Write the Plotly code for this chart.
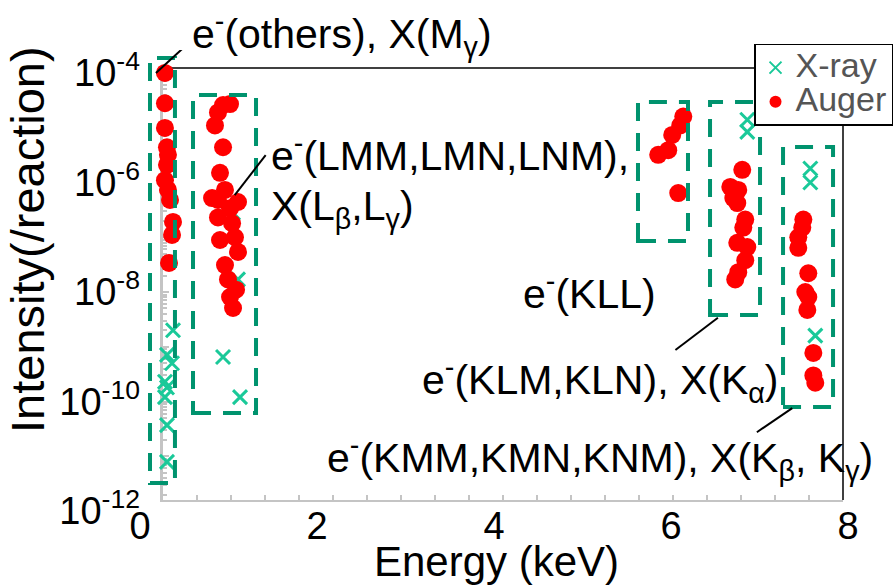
import plotly.graph_objects as go

# ---------------- data (energy keV, intensity /reaction) ----------------
others_auger_e = [0.282, 0.282, 0.282, 0.305, 0.316, 0.305, 0.282, 0.316, 0.339, 0.373, 0.362, 0.328]
others_auger_i = [1.0e-4, 2.8e-5, 9.9e-6, 4.4e-6, 3.2e-6, 2.1e-6, 1.1e-6, 7.3e-7, 4.8e-7, 1.9e-7, 1.1e-7, 3.4e-8]
others_xray_e = [0.249, 0.373, 0.305, 0.362, 0.282, 0.305, 0.282, 0.305, 0.305]
others_xray_i = [3.5e-5, 2.0e-9, 7.1e-10, 5.0e-10, 2.3e-10, 1.8e-10, 1.2e-10, 3.7e-11, 7.9e-12]

l_auger_e = [0.938, 1.017, 0.881, 0.847, 0.938, 0.904, 0.960, 0.814, 0.881, 1.107, 1.017,
             0.881, 1.040, 0.904, 1.073, 1.107, 0.960, 0.994, 1.085, 1.017, 1.051]
l_auger_i = [2.6e-5, 2.7e-5, 1.9e-5, 1.1e-5, 4.4e-6, 1.5e-6, 7.3e-7, 5.2e-7, 4.8e-7, 4.4e-7, 3.4e-7,
             2.3e-7, 1.8e-7, 8.9e-8, 1.0e-7, 5.4e-8, 3.1e-8, 1.7e-8, 1.1e-8, 8.1e-9, 5.1e-9]
l_xray_e = [1.051, 1.107, 0.938, 1.130]
l_xray_i = [2.8e-7, 1.7e-8, 6.5e-10, 1.2e-10]

kll_auger_e = [6.136, 6.102, 6.011, 5.966, 5.853, 6.079]
kll_auger_i = [1.6e-5, 1.1e-5, 7.4e-6, 3.9e-6, 3.2e-6, 6.4e-7]

klm_auger_e = [6.802, 6.667, 6.757, 6.701, 6.746, 6.836, 6.814, 6.746, 6.859, 6.836, 6.757, 6.723]
klm_auger_i = [1.7e-6, 8.3e-7, 7.3e-7, 5.2e-7, 4.2e-7, 2.1e-7, 1.5e-7, 7.9e-8, 6.6e-8, 3.8e-8, 2.3e-8, 1.7e-8]
ka_xray_e = [6.859, 6.859]
ka_xray_i = [1.4e-5, 8.4e-6]

kmm_auger_e = [7.492, 7.480, 7.435, 7.435, 7.548, 7.514, 7.548, 7.537, 7.605, 7.605, 7.627]
kmm_auger_i = [2.1e-7, 1.5e-7, 1.0e-7, 6.4e-8, 2.2e-8, 1.0e-8, 8.1e-9, 4.7e-9, 7.7e-10, 3.0e-10, 2.2e-10]
kb_xray_e = [7.571, 7.571, 7.627]
kb_xray_i = [1.8e-6, 1.0e-6, 1.6e-9]

# group boxes: (E_min, E_max, I_min, I_max)
group_boxes = [
    (0.113, 0.395, 3.24e-12, 1.88e-4),
    (0.599, 1.311, 6.17e-11, 3.96e-5),
    (5.627, 6.192, 8.55e-8, 2.95e-5),
    (6.441, 7.006, 3.80e-9, 2.95e-5),
    (7.266, 7.831, 7.94e-11, 4.45e-6),
]

# label leader lines: (E_start, I_start, E_end, I_end)
leaders = [
    (0.18, 1.0e-4, 0.565, 3.72e-4),
    (1.07, 5.89e-7, 1.42, 3.16e-6),
    (6.05, 8.71e-10, 6.53, 3.39e-9),
    (6.97, 2.75e-11, 7.37, 7.59e-11),
]

x_tick_vals = [0, 2, 4, 6, 8]
y_tick_vals = [1e-4, 1e-6, 1e-8, 1e-10, 1e-12]
y_tick_text = ["10<sup>-4</sup>", "10<sup>-6</sup>", "10<sup>-8</sup>", "10<sup>-10</sup>", "10<sup>-12</sup>"]

xray_e = others_xray_e + l_xray_e + ka_xray_e + kb_xray_e
xray_i = others_xray_i + l_xray_i + ka_xray_i + kb_xray_i
auger_e = others_auger_e + l_auger_e + kll_auger_e + klm_auger_e + kmm_auger_e
auger_i = others_auger_i + l_auger_i + kll_auger_i + klm_auger_i + kmm_auger_i

FONT = "Liberation Sans, Arial, sans-serif"
BOX_COLOR = "#00936e"
XRAY_COLOR = "#1ac999"
GRAY = "#c4c4c4"

fig = go.Figure()
fig.add_trace(go.Scatter(x=[None], y=[None], xaxis="x", yaxis="y", mode="markers",
                         showlegend=False, hoverinfo="skip"))
fig.add_trace(go.Scatter(
    x=xray_e, y=xray_i, mode="markers",
    name="<span style='font-size:34px'>X-ray</span>", xaxis="x2", yaxis="y2",
    cliponaxis=False,
    marker=dict(symbol="x-thin", size=14, color=XRAY_COLOR,
                line=dict(color=XRAY_COLOR, width=3)),
))
fig.add_trace(go.Scatter(
    x=auger_e, y=auger_i, mode="markers",
    name="<span style='font-size:34px'>Auger</span>", xaxis="x2", yaxis="y2",
    cliponaxis=False,
    marker=dict(symbol="circle", size=18, color="#ff0000", line=dict(width=0)),
))

shapes = []
for (e0, e1, i0, i1) in group_boxes:
    shapes.append(dict(type="rect", xref="x", yref="y", x0=e0, x1=e1, y0=i0, y1=i1,
                       line=dict(color=BOX_COLOR, width=4, dash="18px,12px"),
                       fillcolor="rgba(0,0,0,0)", layer="above"))

# frame top and right (black)
shapes.append(dict(type="line", xref="x2 domain", yref="y2 domain", x0=0, x1=1, y0=1, y1=1,
                   line=dict(color="black", width=1.5), layer="below"))
shapes.append(dict(type="line", xref="x2 domain", yref="y2 domain", x0=1, x1=1, y0=0, y1=1,
                   line=dict(color="black", width=1.5), layer="below"))

for (a, b, c, d) in leaders:
    shapes.append(dict(type="line", xref="x", yref="y", x0=a, y0=b, x1=c, y1=d,
                       line=dict(color="black", width=2)))

# annotation positions: x in keV, y in log10(intensity)
labels = [
    (1.46, -5.47, "e<sup>-</sup>(LMM,LMN,LNM),"),
    (1.46, -6.48, "X(L<sub>β</sub>,L<sub>γ</sub>)"),
    (4.30, -7.98, "e<sup>-</sup>(KLL)"),
    (3.16, -9.60, "e<sup>-</sup>(KLM,KLN), X(K<sub>α</sub>)"),
    (2.09, -11.03, "e<sup>-</sup>(KMM,KMN,KNM), X(K<sub>β</sub>, K<sub>γ</sub>)"),
]
annotations = []
for (ex, ly, txt) in labels:
    annotations.append(dict(x=ex, y=ly, xref="x", yref="y", text=txt, showarrow=False,
                            xanchor="left", yanchor="middle",
                            font=dict(family=FONT, size=41, color="black")))
annotations.append(dict(x=0.0706, y=1.035, xref="paper", yref="paper",
                        text="e<sup>-</sup>(others), X(M<sub>γ</sub>)",
                        showarrow=False, xanchor="left", yanchor="middle",
                        font=dict(family=FONT, size=41, color="black")))
annotations.append(dict(x=0.504, y=-0.089, xref="paper", yref="paper", text="Energy (keV)",
                        showarrow=False, xanchor="center", yanchor="middle",
                        font=dict(family=FONT, size=42, color="black")))
annotations.append(dict(x=-0.158, y=0.596, xref="paper", yref="paper", text="Intensity(/reaction)",
                        showarrow=False, xanchor="center", yanchor="middle", textangle=-90,
                        font=dict(family=FONT, size=47, color="black")))

fig.update_layout(
    width=894, height=585,
    margin=dict(l=140, r=46, t=50, b=65, autoexpand=False),
    paper_bgcolor="white", plot_bgcolor="rgba(0,0,0,0)",
    font=dict(family=FONT, color="black"),
    showlegend=True,
    legend=dict(xref="container", yref="container", x=0.9989, y=0.9248,
                xanchor="right", yanchor="top",
                bgcolor="white", bordercolor="black", borderwidth=1.5,
                font=dict(family=FONT, size=24, color="#555555"),
                itemsizing="constant", tracegroupgap=0, itemwidth=30),
    xaxis=dict(range=[0, 8], domain=[0, 1], anchor="free", position=0.04255,
               tickvals=x_tick_vals, ticktext=[str(v) for v in x_tick_vals],
               showline=False, showgrid=False, zeroline=False, ticks="",
               tickfont=dict(family=FONT, size=38, color="black")),
    yaxis=dict(type="log", range=[-12.164, -3.580], domain=[0, 1], anchor="free", position=0,
               tickvals=y_tick_vals, ticktext=y_tick_text,
               showline=False, showgrid=False, zeroline=False, ticks="",
               tickfont=dict(family=FONT, size=38, color="black")),
    xaxis2=dict(range=[0.26, 7.94], domain=[0.03249, 0.99294], anchor="y2",
                showline=True, linecolor=GRAY, linewidth=2, showgrid=False, zeroline=False,
                ticks="inside", ticklen=5, tickcolor=GRAY, tickwidth=1.5,
                tick0=0.26, dtick=0.384, showticklabels=False, layer="below traces"),
    yaxis2=dict(type="log", range=[-11.799, -3.909], domain=[0.04255, 0.96170], anchor="x2",
                showline=True, linecolor=GRAY, linewidth=3, showgrid=False, zeroline=False,
                ticks="inside", ticklen=6, tickcolor=GRAY, tickwidth=1.5, dtick=1,
                minor=dict(ticks="inside", ticklen=4, tickcolor=GRAY, dtick="D1"),
                showticklabels=False, layer="below traces"),
    shapes=shapes,
    annotations=annotations,
)

fig.write_html("out.html", config={"displayModeBar": False},
               post_script="document.body.style.margin='0px';document.body.style.overflow='hidden';")
